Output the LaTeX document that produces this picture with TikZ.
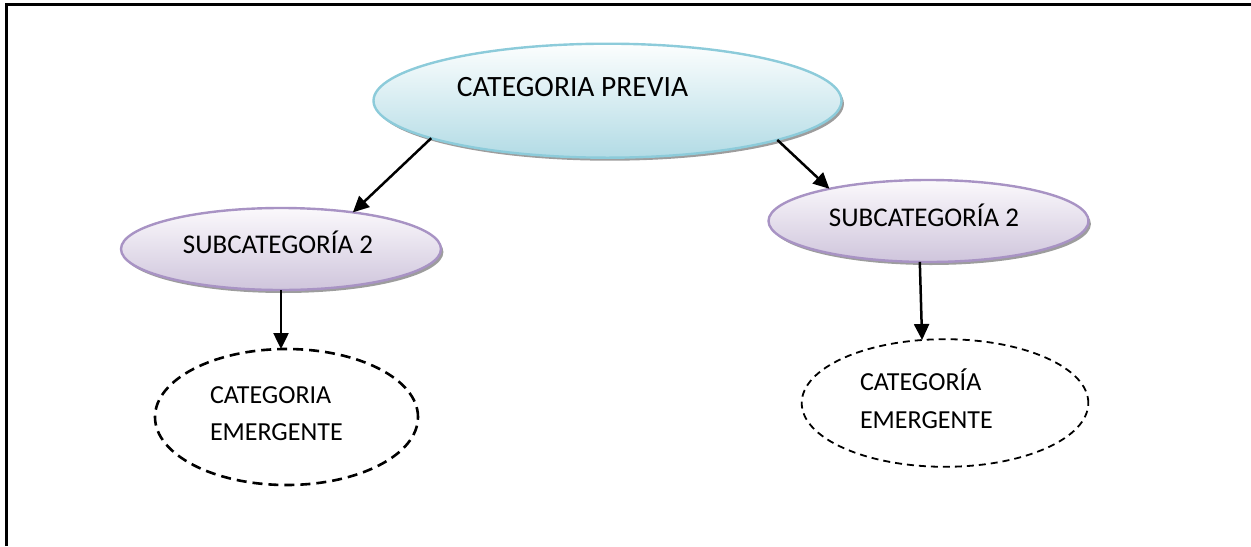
\documentclass[tikz,border=0pt]{standalone}
\usepackage{fontspec}
\setmainfont{Carlito}
\usetikzlibrary{shapes.geometric,arrows.meta,shadows}

\definecolor{prevline}{HTML}{8CCBDA}
\definecolor{prevtop}{HTML}{FCFEFE}
\definecolor{prevbot}{HTML}{B2DBE5}
\definecolor{subline}{HTML}{A893C4}
\definecolor{subtop}{HTML}{FBF9FC}
\definecolor{subbot}{HTML}{CFC5DC}

\begin{document}
\begin{tikzpicture}[x=0.5pt,y=-0.5pt,
  shade/.style={drop shadow={shadow xshift=1.2pt,shadow yshift=-1.5pt,fill=black!55,opacity=0.7}},
  prevbox/.style={ellipse,draw=prevline,line width=1.2pt,top color=prevtop,bottom color=prevbot,
    shade,inner sep=0pt,outer sep=0pt,minimum width=234pt,minimum height=57pt},
  subbox/.style={ellipse,draw=subline,line width=1.2pt,top color=subtop,bottom color=subbot,
    shade,inner sep=0pt,outer sep=0pt,minimum width=160pt,minimum height=41pt},
  emerbox/.style={ellipse,draw=black,fill=white,inner sep=0pt,outer sep=0pt},
  label/.style={inner sep=0pt,outer sep=0pt,anchor=base},
  emtext/.style={inner sep=0pt,outer sep=0pt,anchor=base west,align=left,
    font=\fontsize{13}{18.75}\selectfont},
  conn/.style={line width=1.25pt,-{Triangle[length=8pt,width=7.5pt]}}]

\useasboundingbox (0,0) rectangle (1251,546);

% page frame (top and left rules)
\draw[line width=1.2pt] (6.5,546) -- (6.5,4.5) -- (1251,4.5);

% ellipses
\node[prevbox] (prev) at (607.5,100.7) {};
\node[subbox] (ls) at (281,249) {};
\node[subbox] (rs) at (928.5,221) {};
\node[emerbox,line width=1.3pt,dash pattern=on 5pt off 3pt,
      minimum width=131.5pt,minimum height=68pt] (le) at (286.5,417) {};
\node[emerbox,line width=0.9pt,dash pattern=on 3.5pt off 2.5pt,
      minimum width=143.3pt,minimum height=63.8pt] (re) at (945,403) {};

% texts (base anchor of a two-line node sits on its last line)
\node[label,font=\fontsize{14.75}{18}\selectfont] (prevtxt) at (572.5,96.7) {CATEGORIA PREVIA};
\node[label,font=\fontsize{13.5}{16}\selectfont] (lstxt) at (278,253.3) {SUBCATEGORÍA 2};
\node[label,font=\fontsize{13.5}{16}\selectfont] (rstxt) at (924,226) {SUBCATEGORÍA 2};
\node[emtext] (letxt) at (210,440.7) {CATEGORIA\\EMERGENTE};
\node[emtext] (retxt) at (860,428.3) {CATEGORÍA\\EMERGENTE};

% connectors
\draw[conn] (prev.192) -- (ls.27);
\draw[conn] (prev.347) -- (rs.162);
\draw[conn] (ls.south) -- (ls.south |- le.north);
\draw[conn] (rs.258) -- (re.110);
\end{tikzpicture}
\end{document}
